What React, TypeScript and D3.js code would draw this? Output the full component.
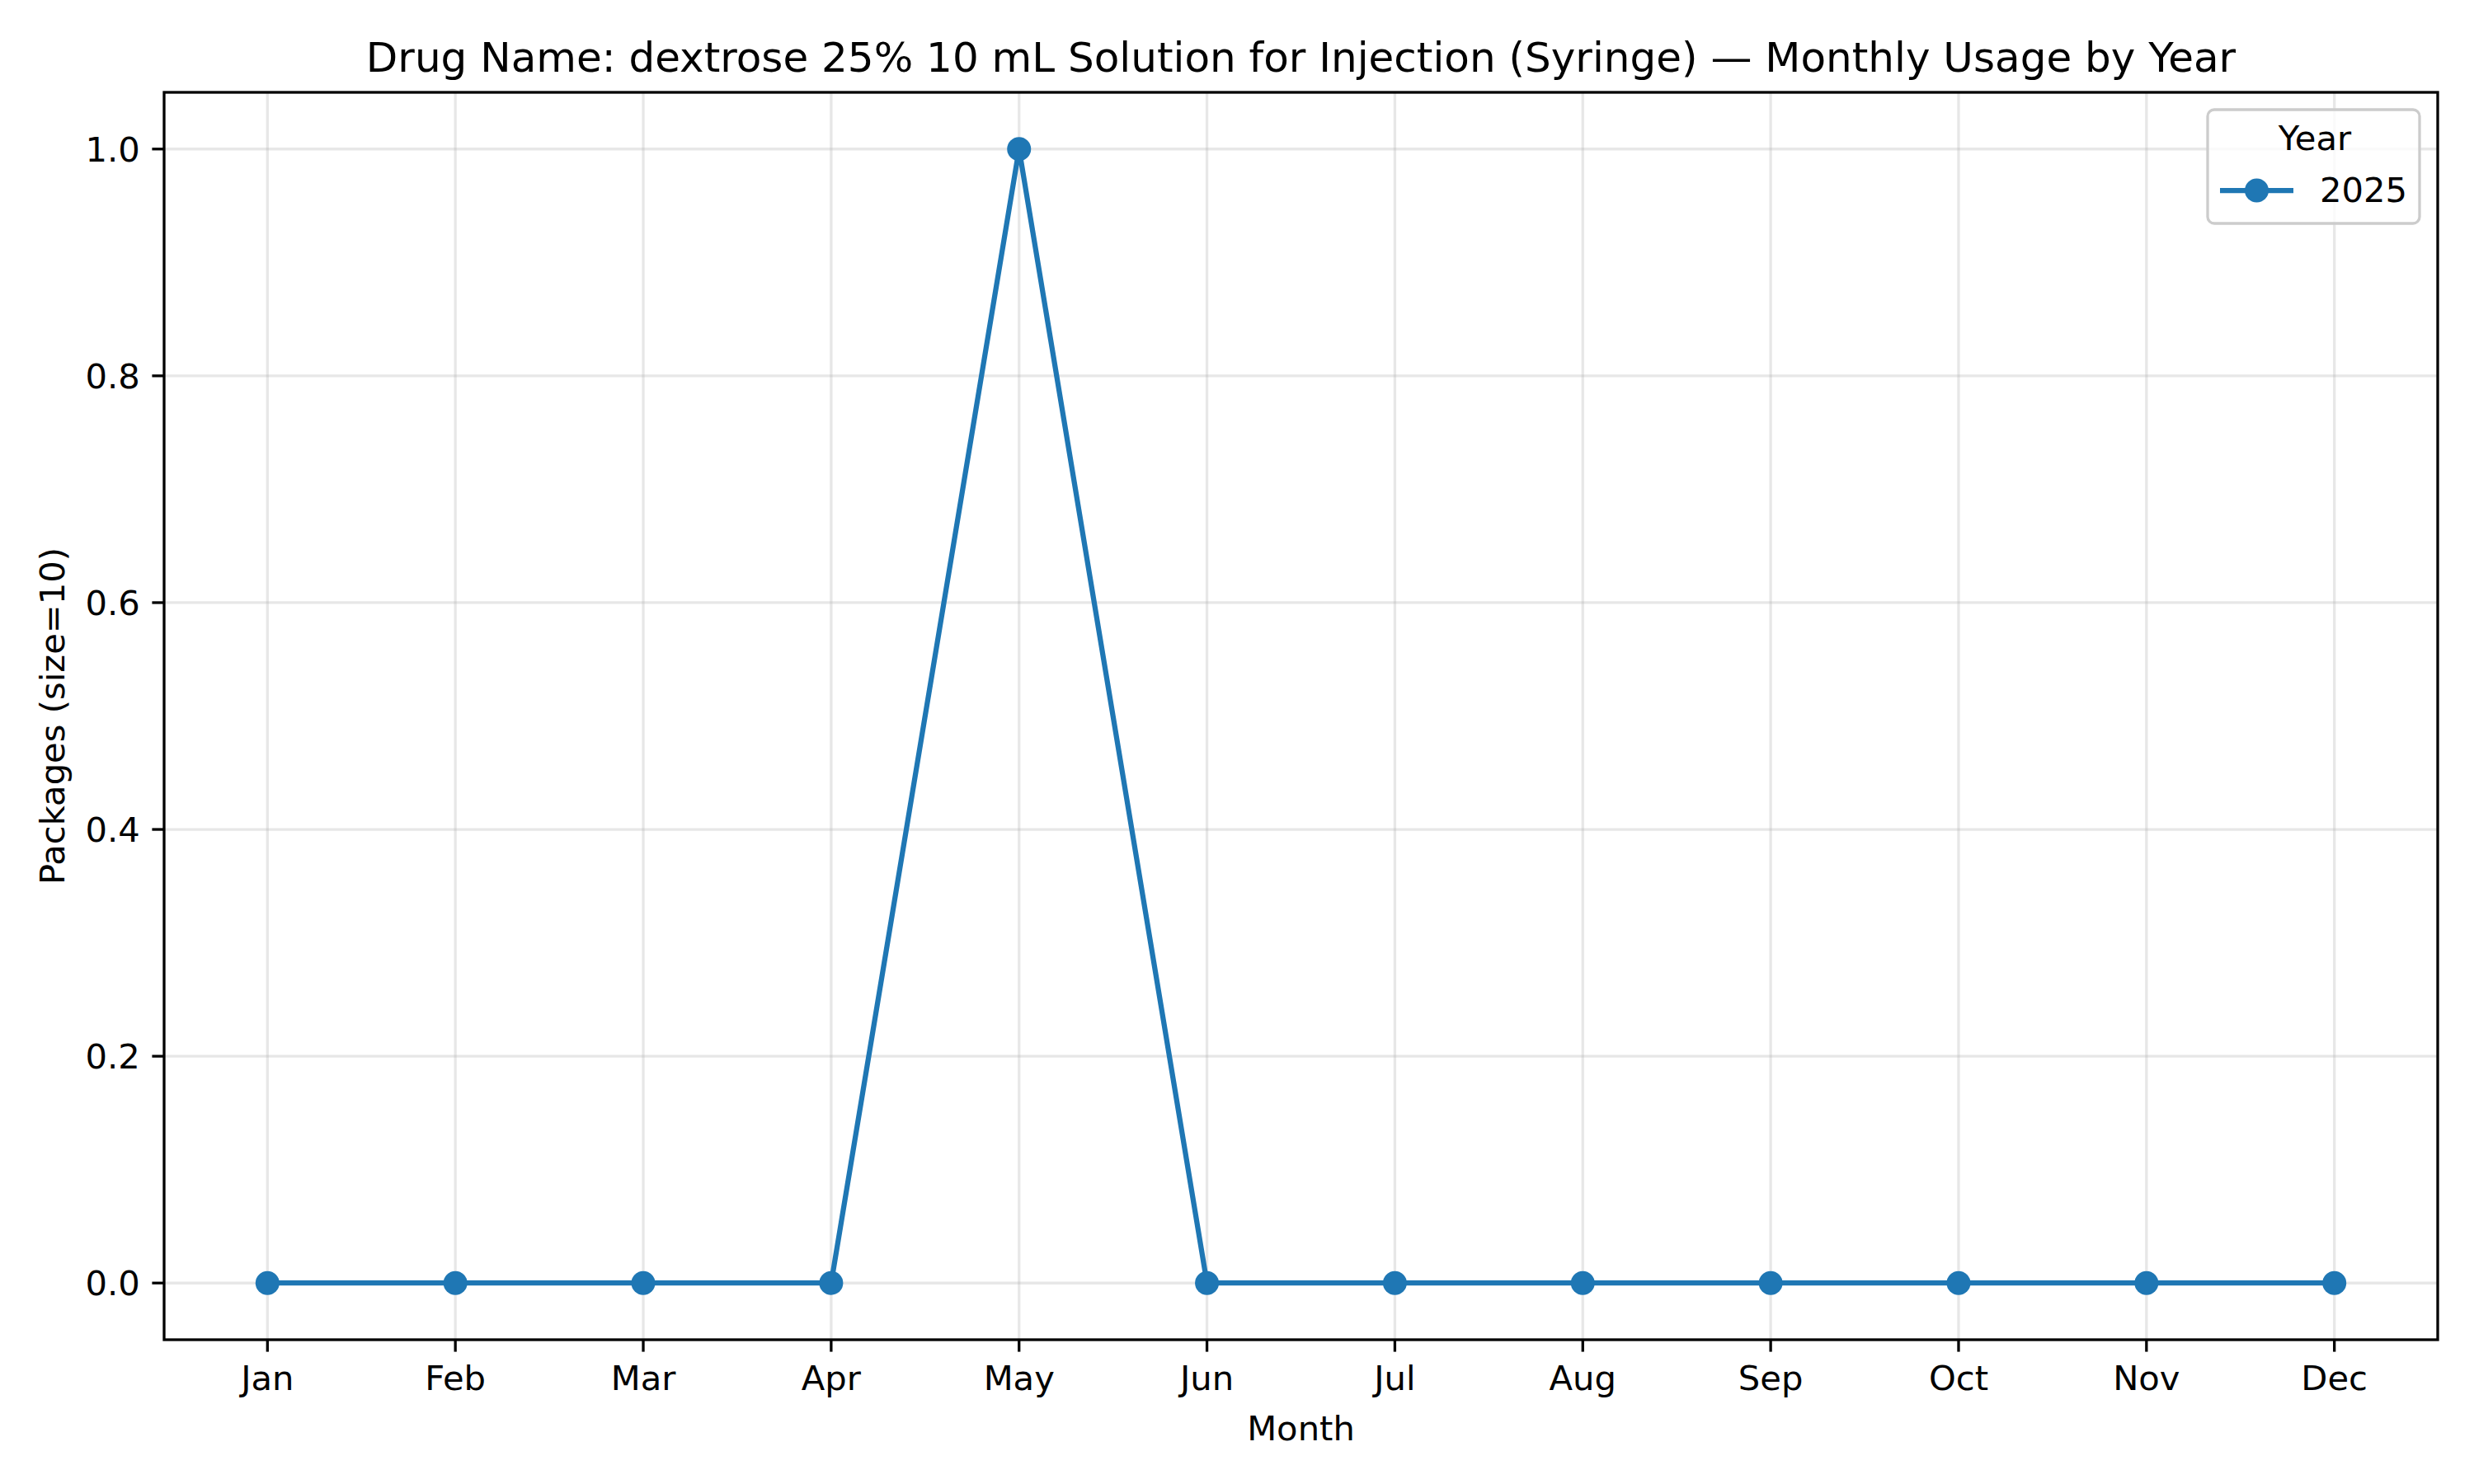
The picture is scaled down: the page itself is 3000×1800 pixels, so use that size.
import React from "react";
import * as d3 from "d3";

const MONTHS = ["Jan", "Feb", "Mar", "Apr", "May", "Jun", "Jul", "Aug", "Sep", "Oct", "Nov", "Dec"];
const YEAR_LABEL = "2025";
const USAGE_2025 = [0, 0, 0, 0, 1, 0, 0, 0, 0, 0, 0, 0];
const Y_TICKS = [0, 0.2, 0.4, 0.6, 0.8, 1.0];

const TITLE = "Drug Name: dextrose 25% 10 mL Solution for Injection (Syringe) — Monthly Usage by Year";

const W = 3000;
const H = 1800;
const LEFT = 199;
const RIGHT = 2956;
const TOP = 112;
const BOTTOM = 1625;
const BLUE = "#1f77b4";
const FONT = "DejaVu Sans";

export default function App() {
  const x = d3.scaleLinear().domain([-0.55, MONTHS.length - 1 + 0.55]).range([LEFT, RIGHT]);
  const y = d3.scaleLinear().domain([-0.05, 1.05]).range([BOTTOM, TOP]);

  const pts = USAGE_2025.map((v, i) => ({ i, v }));
  const line = d3
    .line<{ i: number; v: number }>()
    .x((d) => x(d.i))
    .y((d) => y(d.v));

  const midX = (LEFT + RIGHT) / 2;
  const midY = (TOP + BOTTOM) / 2;

  // legend box
  const lg = { x: 2677, y: 133, w: 257, h: 138 };

  return (
    <svg
      width={W}
      height={H}
      style={{ position: "absolute", top: 0, left: 0, background: "#fff" }}
      fontFamily={FONT}
    >
      <rect x={0} y={0} width={W} height={H} fill="#fff" />

      {/* grid */}
      <g stroke="#b0b0b0" strokeOpacity={0.3} strokeWidth={3.3}>
        {MONTHS.map((m, i) => (
          <line key={m} x1={x(i)} x2={x(i)} y1={TOP} y2={BOTTOM} />
        ))}
        {Y_TICKS.map((t) => (
          <line key={t} x1={LEFT} x2={RIGHT} y1={y(t)} y2={y(t)} />
        ))}
      </g>

      {/* series */}
      <path d={line(pts) ?? ""} fill="none" stroke={BLUE} strokeWidth={6.25} strokeLinejoin="round" />
      {pts.map((d) => (
        <circle key={d.i} cx={x(d.i)} cy={y(d.v)} r={14.5} fill={BLUE} />
      ))}

      {/* spines */}
      <rect
        x={LEFT}
        y={TOP}
        width={RIGHT - LEFT}
        height={BOTTOM - TOP}
        fill="none"
        stroke="#000"
        strokeWidth={3.3}
      />

      {/* x ticks */}
      {MONTHS.map((m, i) => (
        <g key={m}>
          <line x1={x(i)} x2={x(i)} y1={BOTTOM} y2={BOTTOM + 14.6} stroke="#000" strokeWidth={3.3} />
          <text x={x(i)} y={1686} textAnchor="middle" fontSize={41.7} fill="#000">
            {m}
          </text>
        </g>
      ))}

      {/* y ticks */}
      {Y_TICKS.map((t) => (
        <g key={t}>
          <line x1={LEFT - 14.6} x2={LEFT} y1={y(t)} y2={y(t)} stroke="#000" strokeWidth={3.3} />
          <text
            x={LEFT - 29.2}
            y={y(t)}
            dy="0.36em"
            textAnchor="end"
            fontSize={41.7}
            fill="#000"
          >
            {t.toFixed(1)}
          </text>
        </g>
      ))}

      {/* labels */}
      <text x={midX} y={1747} textAnchor="middle" fontSize={41.7} fill="#000">
        Month
      </text>
      <text
        transform={`translate(78,${midY}) rotate(-90)`}
        textAnchor="middle"
        fontSize={41.7}
        fill="#000"
      >
        Packages (size=10)
      </text>
      <text x={midX} y={87} textAnchor="middle" fontSize={50} fill="#000">
        {TITLE}
      </text>

      {/* legend */}
      <rect
        x={lg.x}
        y={lg.y}
        width={lg.w}
        height={lg.h}
        rx={8}
        fill="#fff"
        fillOpacity={0.8}
        stroke="#cccccc"
        strokeWidth={3.3}
      />
      <text x={2807} y={182} textAnchor="middle" fontSize={41.7} fill="#000">
        Year
      </text>
      <line x1={2692} x2={2781} y1={231} y2={231} stroke={BLUE} strokeWidth={6.25} />
      <circle cx={2736.5} cy={231} r={14.5} fill={BLUE} />
      <text x={2813} y={245} fontSize={41.7} fill="#000">
        {YEAR_LABEL}
      </text>
    </svg>
  );
}
